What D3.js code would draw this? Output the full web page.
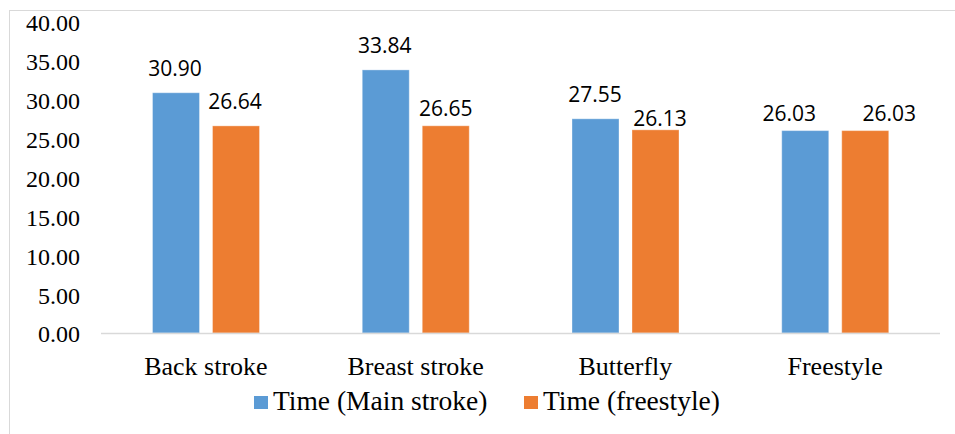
<!DOCTYPE html>
<html>
<head>
<meta charset="utf-8">
<script src="https://cdn.jsdelivr.net/npm/d3@7"></script>
<style>
  body { margin: 0; background: #fff; }
  svg { display: block; }
  .serif { font-family: "Liberation Serif", "Times New Roman", serif; }
</style>
</head>
<body>
<div id="chart"></div>
<script>
var categories = ["Back stroke", "Breast stroke", "Butterfly", "Freestyle"];
var seriesNames = ["Time (Main stroke)", "Time (freestyle)"];
var mainStroke = [30.90, 33.84, 27.55, 26.03];
var freestyle = [26.64, 26.65, 26.13, 26.03];
var yTicks = [0, 5, 10, 15, 20, 25, 30, 35, 40];
var colors = ["#5b9bd5", "#ed7d31"];

// data labels were nudged by hand in the original: [dx, gap above bar]
var labelNudge = [
  [[-1, 17], [-1, 17]],
  [[-1, 17], [0, 10]],
  [[-0.5, 17], [4.5, 3.5]],
  [[-16, 10], [24, 10]]
];

var W = 955, H = 434;
var margin = { top: 22, right: 15, bottom: 101, left: 101 };

var svg = d3.select("#chart").append("svg").attr("width", W).attr("height", H);

// chart frame
svg.append("rect")
  .attr("x", 9.5).attr("y", 10.5)
  .attr("width", W + 20).attr("height", H + 20)
  .attr("fill", "none").attr("stroke", "#d9d9d9");

var rows = categories.map(function (c, i) {
  return {
    cat: c,
    values: [mainStroke[i], freestyle[i]].map(function (v, s) {
      return { v: v, s: s, nudge: labelNudge[i][s] };
    })
  };
});

var x0 = d3.scaleBand().domain(categories).range([margin.left, W - margin.right]);
var x1 = d3.scaleBand().domain([0, 1]).range([51.5, 158.5]).paddingInner(13 / 60);
var y = d3.scaleLinear().domain([0, 40]).range([H - margin.bottom, margin.top]);

// y tick labels
svg.append("g").selectAll("text")
  .data(yTicks).enter().append("text")
  .attr("class", "serif")
  .attr("x", 80)
  .attr("y", function (d) { return y(d) + 1; })
  .attr("dy", "0.35em")
  .attr("text-anchor", "end")
  .style("font-size", "24px")
  .attr("fill", "#000")
  .text(function (d) { return d.toFixed(2); });

// bars
var groups = svg.append("g").selectAll("g")
  .data(rows).enter().append("g")
  .attr("transform", function (d) { return "translate(" + x0(d.cat) + ",0)"; });

groups.selectAll("rect")
  .data(function (d) { return d.values; })
  .enter().append("rect")
  .attr("x", function (d) { return x1(d.s); })
  .attr("y", function (d) { return y(d.v); })
  .attr("width", x1.bandwidth())
  .attr("height", function (d) { return y(0) - y(d.v); })
  .attr("fill", function (d) { return colors[d.s]; })
  .attr("stroke", "#fff").attr("stroke-opacity", 0.35).attr("stroke-width", 1);

groups.selectAll("text")
  .data(function (d) { return d.values; })
  .enter().append("text")
  .attr("x", function (d) { return x1(d.s) + x1.bandwidth() / 2 + d.nudge[0]; })
  .attr("y", function (d) { return y(d.v) - d.nudge[1]; })
  .attr("text-anchor", "middle")
  .style("font-family", "'Open Sans', sans-serif")
  .style("font-size", "21px")
  .attr("fill", "#000")
  .text(function (d) { return d.v.toFixed(2); });

// x axis line
svg.append("line")
  .attr("x1", margin.left).attr("x2", W - margin.right)
  .attr("y1", y(0) + 0.5).attr("y2", y(0) + 0.5)
  .attr("stroke", "#d9d9d9").attr("stroke-width", 1.5);

// category labels
svg.append("g").selectAll("text")
  .data(categories).enter().append("text")
  .attr("class", "serif")
  .attr("x", function (d) { return x0(d) + x0.bandwidth() / 2; })
  .attr("y", 375)
  .attr("text-anchor", "middle")
  .style("font-size", "26px")
  .attr("fill", "#000")
  .text(function (d) { return d; });

// legend
var legendX = [254, 524];
var legend = svg.append("g").selectAll("g")
  .data(seriesNames).enter().append("g")
  .attr("transform", function (d, i) { return "translate(" + legendX[i] + ",396)"; });

legend.append("rect")
  .attr("width", 14).attr("height", 13)
  .attr("fill", function (d, i) { return colors[i]; });

legend.append("text")
  .attr("class", "serif")
  .attr("x", 19).attr("y", 14)
  .style("font-size", "27.5px")
  .attr("fill", "#000")
  .text(function (d) { return d; });
</script>
</body>
</html>
